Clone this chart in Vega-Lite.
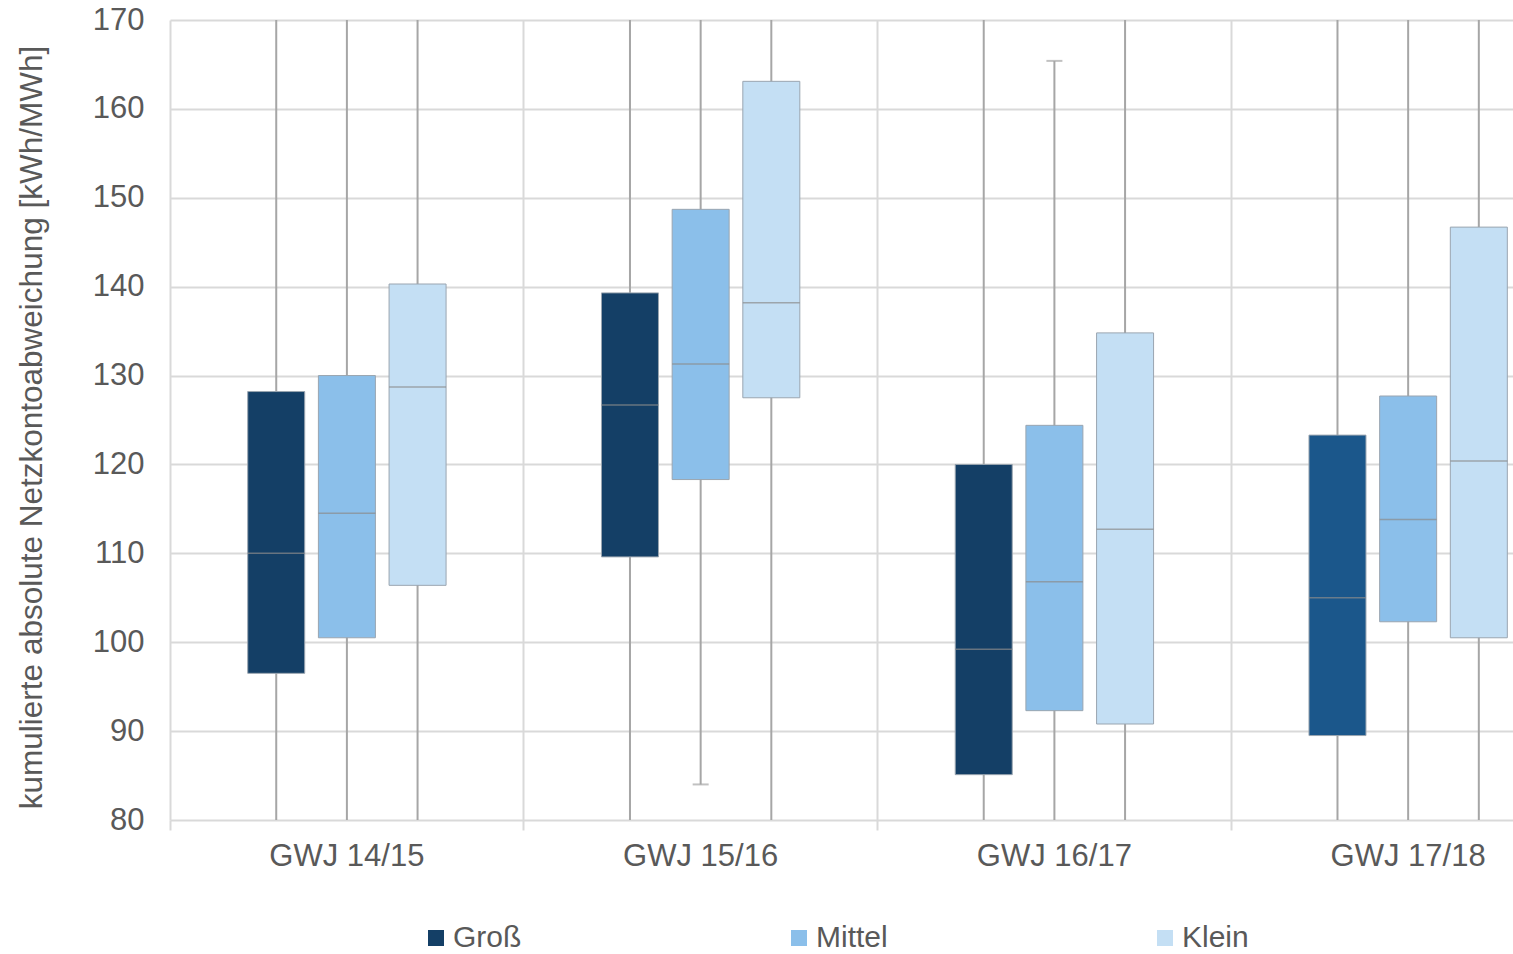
{
  "$schema": "https://vega.github.io/schema/vega-lite/v6.json",
  "width": 1343,
  "height": 800,
  "autosize": {"type": "none"},
  "padding": {"left": 170, "top": 20, "right": 0, "bottom": 134},
  "background": "white",
  "config": {
    "view": {"stroke": null},
    "font": "Liberation Sans",
    "axis": {"labelColor": "#595959", "titleColor": "#595959", "gridColor": "#d9d9d9", "gridWidth": 2, "tickColor": "#d9d9d9", "tickWidth": 2}
  },
  "data": {
    "values": [
      {"year": "GWJ 14/15", "size": "Groß", "min": 75, "q1": 96.5, "median": 110.0, "q3": 128.2, "max": 175},
      {"year": "GWJ 14/15", "size": "Mittel", "min": 75, "q1": 100.5, "median": 114.5, "q3": 130.0, "max": 175},
      {"year": "GWJ 14/15", "size": "Klein", "min": 75, "q1": 106.4, "median": 128.7, "q3": 140.3, "max": 175},
      {"year": "GWJ 15/16", "size": "Groß", "min": 75, "q1": 109.6, "median": 126.7, "q3": 139.3, "max": 175},
      {"year": "GWJ 15/16", "size": "Mittel", "min": 84.0, "q1": 118.3, "median": 131.3, "q3": 148.7, "max": 175},
      {"year": "GWJ 15/16", "size": "Klein", "min": 75, "q1": 127.5, "median": 138.2, "q3": 163.1, "max": 175},
      {"year": "GWJ 16/17", "size": "Groß", "min": 75, "q1": 85.1, "median": 99.2, "q3": 120.0, "max": 175},
      {"year": "GWJ 16/17", "size": "Mittel", "min": 75, "q1": 92.3, "median": 106.8, "q3": 124.4, "max": 165.4},
      {"year": "GWJ 16/17", "size": "Klein", "min": 75, "q1": 90.8, "median": 112.7, "q3": 134.8, "max": 175},
      {"year": "GWJ 17/18", "size": "Groß", "min": 75, "q1": 89.5, "median": 105.0, "q3": 123.3, "max": 175},
      {"year": "GWJ 17/18", "size": "Mittel", "min": 75, "q1": 102.3, "median": 113.8, "q3": 127.7, "max": 175},
      {"year": "GWJ 17/18", "size": "Klein", "min": 75, "q1": 100.5, "median": 120.4, "q3": 146.7, "max": 175}
    ]
  },
  "encoding": {
    "x": {
      "field": "year", "type": "nominal", "sort": null,
      "scale": {"range": [0, 1415], "paddingInner": 0, "paddingOuter": 0},
      "axis": {"title": null, "labelAngle": 0, "labelFontSize": 31, "labelPadding": 11, "domain": false, "grid": true, "bandPosition": 0, "tickSize": 10, "ticks": true}
    },
    "xOffset": {"field": "size", "type": "nominal", "sort": ["Groß", "Mittel", "Klein"], "scale": {"range": [70.9, 282.9], "paddingInner": 0, "paddingOuter": 0}}
  },
  "layer": [
    {
      "mark": {"type": "rule", "color": "#a6a6a6", "strokeWidth": 2, "clip": true},
      "encoding": {
        "y": {"field": "min", "type": "quantitative", "scale": {"domain": [80, 170], "nice": false, "zero": false},
          "axis": {"title": "kumulierte absolute Netzkontoabweichung [kWh/MWh]", "titleFontSize": 31.5, "titleFontWeight": "normal", "titlePadding": 44, "titleY": 407, "labelFontSize": 31, "labelPadding": 26, "ticks": false, "domain": false, "values": [80, 90, 100, 110, 120, 130, 140, 150, 160, 170], "grid": true}},
        "y2": {"field": "max"}
      }
    },
    {
      "transform": [{"filter": "datum.min >= 80"}],
      "mark": {"type": "tick", "color": "#a6a6a6", "thickness": 2, "size": 16},
      "encoding": {"y": {"field": "min", "type": "quantitative"}}
    },
    {
      "transform": [{"filter": "datum.max <= 170"}],
      "mark": {"type": "tick", "color": "#a6a6a6", "thickness": 2, "size": 16},
      "encoding": {"y": {"field": "max", "type": "quantitative"}}
    },
    {
      "mark": {"type": "bar", "stroke": "#9aa5b0", "strokeWidth": 1, "width": 57},
      "encoding": {
        "y": {"field": "q1", "type": "quantitative"},
        "y2": {"field": "q3"},
        "color": {
          "condition": {"test": "datum.year === 'GWJ 17/18' && datum.size === 'Groß'", "value": "#1b578b"},
          "field": "size", "type": "nominal", "sort": ["Groß", "Mittel", "Klein"],
          "scale": {"domain": ["Groß", "Mittel", "Klein"], "range": ["#143f66", "#8bbfea", "#c4dff4"]},
          "legend": {"title": null, "orient": "none", "legendX": 251, "legendY": 903, "direction": "horizontal", "symbolType": "square", "symbolSize": 256, "symbolStrokeWidth": 0, "labelFontSize": 30, "labelColor": "#595959", "labelOffset": 2, "columnPadding": 262}
        }
      }
    },
    {
      "mark": {"type": "tick", "color": "#8c8c8c", "thickness": 1.5, "size": 57},
      "encoding": {"y": {"field": "median", "type": "quantitative"}}
    }
  ]
}
